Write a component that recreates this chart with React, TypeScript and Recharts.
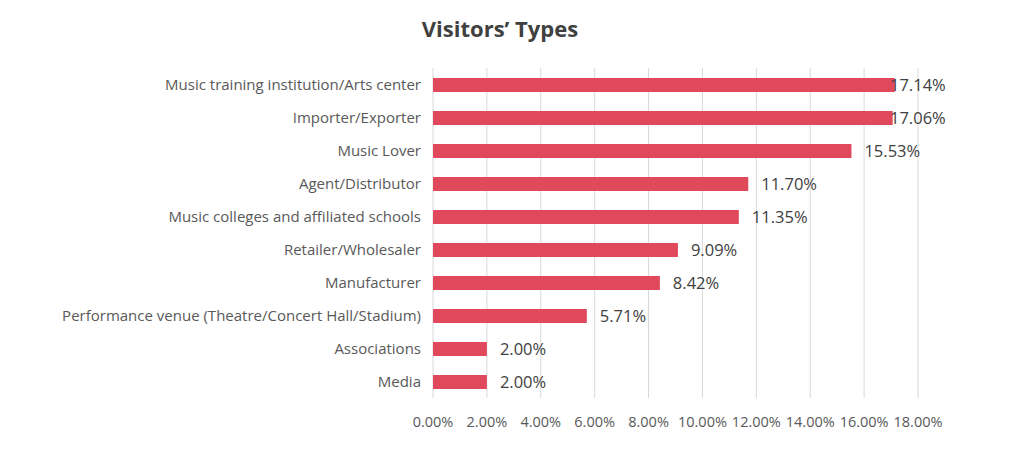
import { BarChart, Bar, XAxis, YAxis, CartesianGrid, LabelList } from "recharts";

const categories = [
  "Music training institution/Arts center",
  "Importer/Exporter",
  "Music Lover",
  "Agent/Distributor",
  "Music colleges and affiliated schools",
  "Retailer/Wholesaler",
  "Manufacturer",
  "Performance venue (Theatre/Concert Hall/Stadium)",
  "Associations",
  "Media",
];

const shares = [17.14, 17.06, 15.53, 11.7, 11.35, 9.09, 8.42, 5.71, 2.0, 2.0];

const xTicks = [0, 2, 4, 6, 8, 10, 12, 14, 16, 18];

const data = categories.map((name, i) => ({ name, value: shares[i] }));

const FONT = "'Open Sans', 'Liberation Sans', sans-serif";

// Excel pulls the labels of the longest bars back inside the plot area
const renderValue = (props: any) => {
  const { x, y, width, height, value } = props;
  const tx = Math.min(x + width + 13, 890);
  return (
    <text
      x={tx}
      y={y + height / 2}
      dy={5.5}
      fill="#404040"
      fontSize={16.5}
      fontFamily={FONT}
      textAnchor="start"
    >
      {`${Number(value).toFixed(2)}%`}
    </text>
  );
};

export default function App() {
  return (
    <div style={{ position: "absolute", left: 0, top: 0, width: 1024, height: 451, background: "#fff" }}>
      <div
        style={{
          position: "absolute",
          left: 0,
          width: 1000,
          top: 13,
          textAlign: "center",
          fontFamily: FONT,
          fontWeight: 700,
          fontSize: 22,
          color: "#404040",
        }}
      >
        Visitors’ Types
      </div>
      <BarChart
        width={1024}
        height={451}
        data={data}
        layout="vertical"
        margin={{ top: 68, right: 106, bottom: 0, left: 0 }}
        barSize={14}
      >
        <CartesianGrid horizontal={false} stroke="#d9d9d9" />
        <XAxis
          type="number"
          dataKey="value"
          domain={[0, 18]}
          ticks={xTicks}
          interval={0}
          axisLine={false}
          tickLine={false}
          height={53}
          tickMargin={13}
          tickFormatter={(v: number) => `${v.toFixed(2)}%`}
          tick={{ fill: "#595959", fontSize: 14.5, fontFamily: FONT }}
        />
        <YAxis
          type="category"
          dataKey="name"
          width={433}
          axisLine={false}
          tickLine={false}
          tickMargin={6}
          interval={0}
          tick={{ fill: "#595959", fontSize: 15, fontFamily: FONT }}
        />
        <Bar dataKey="value" fill="#E0495C" isAnimationActive={false}>
          <LabelList dataKey="value" content={renderValue} />
        </Bar>
      </BarChart>
    </div>
  );
}
